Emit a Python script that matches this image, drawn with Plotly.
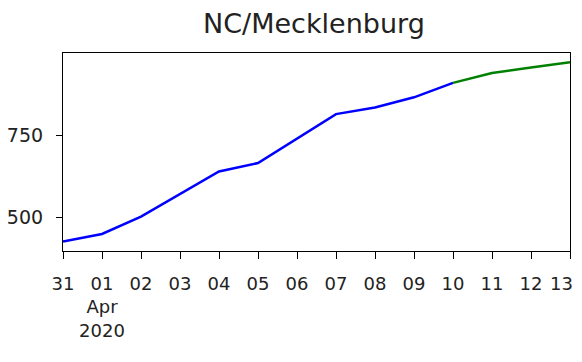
import plotly.graph_objects as go

observed_dates = ["2020-03-31", "2020-04-01", "2020-04-02", "2020-04-03", "2020-04-04",
                  "2020-04-05", "2020-04-06", "2020-04-07", "2020-04-08", "2020-04-09",
                  "2020-04-10"]
observed_values = [427, 450, 503, 571, 640, 666, 740, 815, 835, 866, 910]

forecast_dates = ["2020-04-10", "2020-04-11", "2020-04-12", "2020-04-13"]
forecast_values = [910, 940, 957, 973]

tick_dates = ["2020-03-31", "2020-04-01", "2020-04-02", "2020-04-03", "2020-04-04",
              "2020-04-05", "2020-04-06", "2020-04-07", "2020-04-08", "2020-04-09",
              "2020-04-10", "2020-04-11", "2020-04-12", "2020-04-13"]
tick_labels = ["31", "01<br>Apr<br>2020", "02", "03", "04", "05", "06", "07", "08", "09",
               "10", "11", "12", "13\u00a0\u00a0\u00a0"]
y_ticks = [500, 750]

fig = go.Figure()
fig.add_trace(go.Scatter(x=observed_dates, y=observed_values, mode="lines",
                         line=dict(color="#0000ff", width=2.5), showlegend=False))
fig.add_trace(go.Scatter(x=forecast_dates, y=forecast_values, mode="lines",
                         line=dict(color="#008000", width=2.5), showlegend=False))

# page body has an 8px margin: figure sized to reach the right edge without scrollbars
fig.update_layout(
    width=574, height=346,
    margin=dict(l=55, r=12, t=45, b=103),
    paper_bgcolor="white", plot_bgcolor="white",
    title=dict(text="NC/Mecklenburg", x=0.533, xanchor="center", y=0.955, yanchor="middle",
               font=dict(family="DejaVu Sans", size=27, color="#222222")),
    font=dict(family="DejaVu Sans", color="#222222"),
)
fig.update_xaxes(
    type="date", range=["2020-03-31", "2020-04-13"],
    tickvals=tick_dates, ticktext=tick_labels,
    ticks="outside", ticklen=7, tickwidth=1.2, tickcolor="black",
    showline=True, linecolor="black", linewidth=1.2, mirror=True,
    showgrid=False, zeroline=False, automargin=False,
    tickfont=dict(family="DejaVu Sans", size=18, color="#222222"), tickangle=0,
    ticklabeloverflow="allow", ticklabelstandoff=9,
)
fig.update_yaxes(
    range=[398, 1001],
    tickvals=y_ticks, ticktext=[str(v) for v in y_ticks],
    ticks="outside", ticklen=6, tickwidth=1.2, tickcolor="black",
    showline=True, linecolor="black", linewidth=1.2, mirror=True,
    showgrid=False, zeroline=False, automargin=False,
    tickfont=dict(family="DejaVu Sans", size=19, color="#222222"), ticklabelstandoff=9,
)

fig.write_html("out.html")
